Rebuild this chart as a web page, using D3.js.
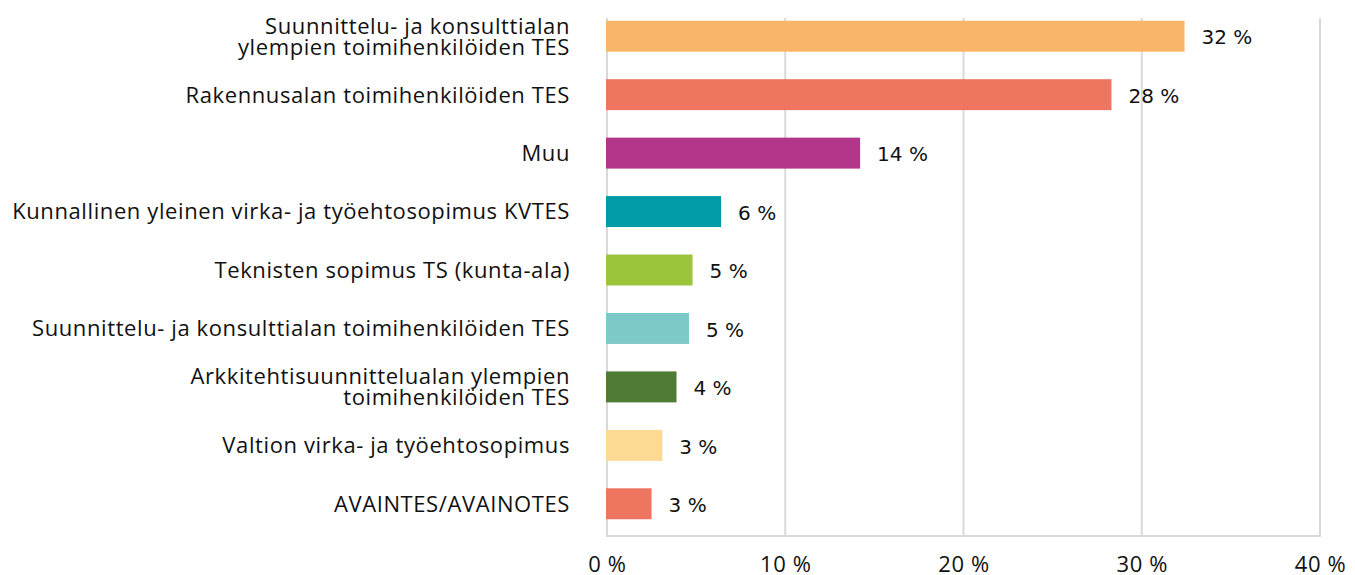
<!DOCTYPE html>
<html>
<head>
<meta charset="utf-8">
<script src="https://cdn.jsdelivr.net/npm/d3@7"></script>
<style>
  body { margin: 0; background: #fff; }
  .cat text { font-family: "Open Sans", sans-serif; font-size: 22px; letter-spacing: 0.6px; fill: #111; }
  .xaxis text { font-family: "Open Sans", sans-serif; font-size: 22px; letter-spacing: 0.6px; fill: #111; }
  .valueLabel { font-family: "DejaVu Sans", sans-serif; font-size: 20px; fill: #111; }
  .grid line { stroke: #d9d9d9; stroke-width: 2; }
</style>
</head>
<body>
<script>
(function(){
    //chart data
    var categories = [
        "Suunnittelu- ja konsulttialan\nylempien toimihenkilöiden TES",
        "Rakennusalan toimihenkilöiden TES",
        "Muu",
        "Kunnallinen yleinen virka- ja työehtosopimus KVTES",
        "Teknisten sopimus TS (kunta-ala)",
        "Suunnittelu- ja konsulttialan toimihenkilöiden TES",
        "Arkkitehtisuunnittelualan ylempien\ntoimihenkilöiden TES",
        "Valtion virka- ja työehtosopimus",
        "AVAINTES/AVAINOTES"
    ];
    var values = [32.4, 28.3, 14.2, 6.4, 4.8, 4.6, 3.9, 3.1, 2.5];
    var valueLabels = ["32 %", "28 %", "14 %", "6 %", "5 %", "5 %", "4 %", "3 %", "3 %"];
    var barColors = ["#F9B668", "#EE7560", "#B3358A", "#009BA6", "#9DC53B", "#7DC8C8", "#4E7C35", "#FDD994", "#EE7560"];
    var xTicks = [0, 10, 20, 30, 40];

    //frame
    var width = 1355,
        height = 575,
        left = 607,
        right = 1320,
        gridTop = 18,
        gridBottom = 536;

    var svg = d3.select("body")
        .append("svg")
        .attr("width", width)
        .attr("height", height);

    var xScale = d3.scaleLinear()
        .domain([0, 40])
        .range([left, right]);

    var yScale = d3.scaleBand()
        .domain(categories)
        .range([7, 533])
        .paddingInner(0.47)
        .paddingOuter(0.235);

    //vertical gridlines
    var grid = svg.append("g").attr("class", "grid");
    grid.selectAll("line.v")
        .data(xTicks)
        .enter()
        .append("line")
        .attr("class", "v")
        .attr("x1", function(d){ return xScale(d); })
        .attr("x2", function(d){ return xScale(d); })
        .attr("y1", gridTop)
        .attr("y2", gridBottom);
    //bottom line
    grid.append("line")
        .attr("x1", xScale(0) - 1)
        .attr("x2", xScale(40) + 1)
        .attr("y1", gridBottom)
        .attr("y2", gridBottom);

    //bars
    svg.selectAll(".bar")
        .data(values)
        .enter()
        .append("rect")
        .attr("class", "bar")
        .attr("x", xScale(0) - 1)
        .attr("y", function(d, i){ return yScale(categories[i]); })
        .attr("width", function(d){ return xScale(d) - xScale(0) + 1; })
        .attr("height", yScale.bandwidth())
        .style("fill", function(d, i){ return barColors[i]; });

    //value labels
    svg.selectAll(".valueLabel")
        .data(values)
        .enter()
        .append("text")
        .attr("class", "valueLabel")
        .attr("x", function(d){ return xScale(d) + 17; })
        .attr("y", function(d, i){ return yScale(categories[i]) + yScale.bandwidth() / 2 + 1; })
        .attr("dy", "0.36em")
        .text(function(d, i){ return valueLabels[i]; });

    //category axis
    var yAxis = d3.axisLeft(yScale).tickSize(0).tickPadding(0);
    var cat = svg.append("g")
        .attr("class", "cat")
        .attr("transform", "translate(570,0)")
        .call(yAxis);
    cat.select(".domain").remove();
    cat.selectAll(".tick text").each(function(d){
        var lines = d.split("\n");
        var t = d3.select(this).text(null).attr("dy", null).attr("text-anchor", "end");
        lines.forEach(function(line, j){
            t.append("tspan")
                .attr("x", 0)
                .attr("dy", j == 0 ? (0.36 - (lines.length - 1) * 0.48) + "em" : "0.96em")
                .text(line);
        });
    });

    //x axis labels
    var xAxis = d3.axisBottom(xScale)
        .tickValues(xTicks)
        .tickSize(0)
        .tickPadding(0)
        .tickFormat(function(d){ return d + " %"; });
    var xa = svg.append("g")
        .attr("class", "xaxis")
        .attr("transform", "translate(0,564)")
        .call(xAxis);
    xa.select(".domain").remove();
    xa.selectAll(".tick text").attr("dy", "0.36em");
})();
</script>
</body>
</html>
